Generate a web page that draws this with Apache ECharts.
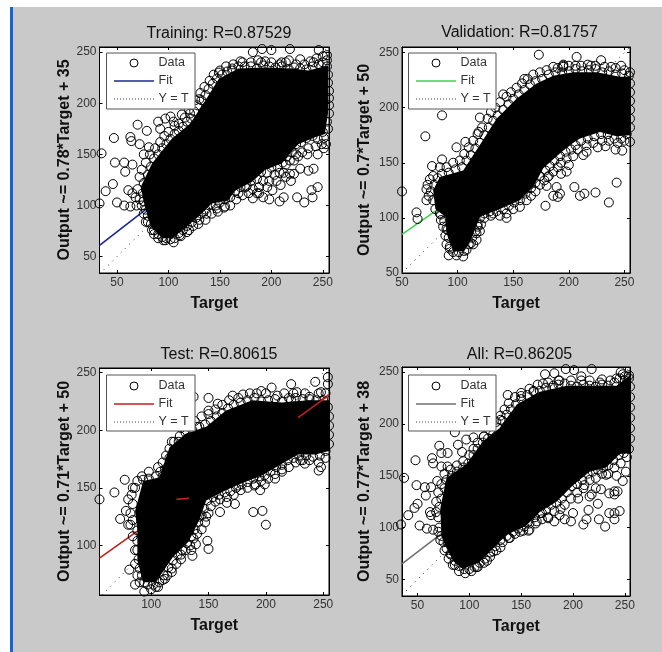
<!DOCTYPE html>
<html><head><meta charset="utf-8">
<style>
html,body{margin:0;padding:0;background:#fff;}
#bg{position:absolute;left:10px;top:7px;width:652px;height:645px;background:#c9c9c9;border-left:3px solid #1763d6;box-sizing:border-box;}
#chart{position:absolute;left:0;top:0;width:662px;height:652px;}
</style>
<script src="https://cdn.jsdelivr.net/npm/echarts@6/dist/echarts.min.js"></script>
</head><body><div id="bg"></div><div id="chart"></div>
<script>
const titles=['Training: R=0.87529','Validation: R=0.81757','Test: R=0.80615','All: R=0.86205'];
const yNames=['Output ~= 0.78*Target + 35','Output ~= 0.7*Target + 50','Output ~= 0.71*Target + 50','Output ~= 0.77*Target + 38'];
const xTicks=[[50,100,150,200,250],[50,100,150,200,250],[100,150,200,250],[50,100,150,200,250]];
const yTicks=[[50,100,150,200,250],[50,100,150,200,250],[100,150,200,250],[50,100,150,200,250]];
const ranges=[[33,256,34,255],[50,255,50,255],[55,255,57,254],[35,255,34,255]];
const fitColors=['#1c2690','#3fd24f','#c41f1f','#707070'];
const fitLines=[[[33,61],[256,235]],[[50,85],[255,229]],[[55,89],[255,231]],[[35,65],[255,234]]];
const fitOnTop=[[],[],[[[122,140],[133,141]],[[228,211],[253,229]]],[]];
const identity=[[[33,33],[255,255]],[[50,50],[255,255]],[[57,57],[255,255]],[[35,35],[255,255]]];

const core1=[[77,99],[73,118],[84,141],[103,165],[121,180],[136,203],[149,224],[168,234],[194,235],[220,234],[236,232],[255,237],[255,190],[252,170],[243,167],[226,160],[210,141],[194,135],[181,123],[165,115],[158,105],[142,102],[129,89],[117,79],[104,68],[94,68],[83,79]];
const core2=[[80,108],[78,125],[84,137],[105,143],[120,166],[135,190],[153,208],[171,222],[186,229],[204,232],[225,232],[246,228],[255,228],[255,175],[243,174],[228,178],[210,172],[201,166],[189,156],[177,145],[168,128],[156,116],[138,108],[120,101],[112,80],[106,70],[96,70],[90,86],[89,101]];
const core3=[[88,113],[86,130],[93,156],[107,159],[116,185],[130,197],[148,203],[165,217],[188,226],[214,224],[237,226],[255,226],[255,182],[243,179],[228,179],[214,171],[197,161],[179,154],[165,148],[148,139],[142,122],[133,104],[119,90],[104,68],[93,68],[88,87]];
const core4=[[73,92],[72,119],[78,148],[97,161],[113,183],[129,196],[146,219],[168,231],[194,237],[219,237],[242,237],[255,247],[255,172],[245,171],[232,158],[216,154],[200,141],[184,125],[168,115],[155,102],[136,93],[123,80],[110,67],[94,60],[85,67],[78,80]];

const edge1=[[75,112],[76,122],[80,130],[83,138],[86,146],[90,150],[94,156],[98,160],[102,165],[106,170],[110,173],[114,177],[118,182],[122,185],[125,192],[128,198],[132,203],[136,208],[139,214],[143,219],[147,224],[152,228],[157,231],[162,232],[168,236],[174,236],[180,236],[186,234],[192,237],[198,236],[204,235],[210,236],[216,233],[222,235],[228,234],[234,233],[240,236],[246,238],[250,240],[254,236],[255,228],[255,220],[256,212],[256,205],[256,198],[256,190],[254,182],[255,175],[250,172],[251,166],[245,165],[240,168],[234,166],[229,162],[224,160],[220,152],[215,148],[211,142],[206,138],[200,137],[196,132],[190,133],[186,126],[180,124],[176,119],[170,118],[165,114],[160,108],[155,106],[150,103],[146,100],[141,101],[136,96],[132,92],[127,88],[123,84],[118,80],[114,76],[110,73],[106,68],[102,67],[98,68],[94,69],[90,72],[86,76],[83,82],[80,90],[78,96],[76,104]];
const edge2=[[80,108],[78,116],[76,124],[79,130],[82,136],[86,140],[92,141],[98,144],[104,146],[108,152],[112,157],[116,163],[120,168],[124,175],[128,182],[132,188],[136,193],[141,198],[146,203],[150,208],[155,212],[160,216],[165,221],[170,224],[176,226],[182,230],[188,232],[194,232],[200,233],[206,235],[212,233],[218,234],[224,235],[230,232],[236,233],[242,230],[248,231],[254,229],[255,222],[255,214],[255,206],[255,198],[255,190],[255,182],[252,176],[247,172],[241,172],[235,176],[229,176],[223,174],[217,172],[211,170],[206,166],[202,162],[197,160],[192,156],[187,152],[183,147],[179,143],[174,138],[170,132],[166,127],[161,122],[156,116],[151,114],[146,111],[141,108],[135,106],[129,106],[124,104],[120,100],[118,94],[116,88],[113,82],[110,76],[106,70],[101,69],[96,69],[93,74],[92,82],[90,90],[88,97],[85,103]];
const edge3=[[88,113],[84,122],[82,128],[84,136],[83,144],[86,150],[88,156],[93,157],[98,158],[104,160],[108,164],[110,172],[113,178],[116,184],[120,190],[125,195],[130,198],[136,200],[142,203],[147,205],[152,208],[157,212],[162,215],[167,219],[172,222],[178,224],[184,226],[190,228],[196,225],[202,226],[208,227],[214,225],[220,228],[226,228],[232,227],[238,227],[244,226],[250,226],[254,220],[255,212],[255,204],[255,196],[255,188],[252,182],[247,178],[241,177],[235,178],[229,178],[224,176],[219,174],[214,170],[209,168],[204,164],[199,161],[194,160],[189,158],[184,155],[179,153],[174,150],[169,147],[164,146],[159,144],[154,142],[149,139],[146,132],[144,126],[141,120],[138,114],[135,108],[131,102],[127,96],[123,92],[119,87],[115,81],[111,74],[107,68],[102,66],[97,66],[94,68],[92,74],[90,80],[89,88],[88,96],[88,104]];
const edge4=[[73,92],[71,100],[70,110],[71,120],[73,128],[76,138],[78,146],[83,150],[88,154],[94,158],[99,162],[104,170],[108,176],[113,182],[118,186],[123,190],[128,196],[132,203],[136,209],[140,214],[145,219],[150,224],[156,228],[162,231],[168,232],[174,235],[180,235],[186,238],[192,239],[198,237],[204,236],[210,238],[216,237],[222,236],[228,238],[234,237],[240,240],[245,244],[250,246],[254,244],[255,236],[255,226],[255,216],[255,206],[255,196],[255,186],[254,176],[249,172],[244,170],[239,165],[234,160],[229,158],[224,156],[219,154],[214,152],[209,146],[204,142],[199,140],[194,134],[189,128],[184,124],[179,122],[174,117],[168,114],[163,110],[158,104],[153,101],[147,99],[142,96],[136,92],[130,88],[125,82],[120,76],[115,70],[110,66],[105,62],[100,60],[95,60],[90,63],[86,68],[82,74],[78,80],[75,86]];

const fringe1=[[72,128],[74,135],[78,142],[82,150],[87,156],[92,162],[96,168],[100,172],[106,178],[110,180],[116,186],[120,194],[126,203],[131,210],[135,216],[140,222],[144,228],[150,232],[156,236],[163,238],[172,240],[180,240],[190,240],[200,240],[208,238],[214,240],[224,238],[232,238],[238,241],[244,244],[250,246],[254,242],[253,160],[249,160],[243,158],[236,156],[230,152],[224,150],[218,144],[214,140],[208,132],[203,130],[198,124],[192,124],[188,118],[182,116],[178,112],[172,110],[166,106],[160,100],[154,98],[148,94],[142,92],[136,86],[130,86],[124,80],[118,74],[112,70],[70,116],[72,106],[74,100],[76,92],[80,84],[86,72],[90,68],[95,66],[235,150],[222,144],[212,132],[205,124],[196,118],[188,112]];
const fringe2=[[74,120],[73,130],[78,138],[84,146],[90,146],[96,150],[102,152],[106,158],[110,164],[114,170],[118,176],[122,182],[127,190],[130,196],[134,200],[138,205],[144,210],[148,214],[153,218],[158,222],[163,226],[168,230],[174,232],[180,234],[190,236],[200,238],[206,238],[220,238],[232,237],[242,236],[250,234],[250,170],[244,168],[236,170],[230,170],[222,168],[216,166],[208,162],[204,156],[198,154],[193,150],[190,146],[186,142],[182,138],[178,134],[174,130],[170,124],[166,120],[162,116],[156,110],[150,108],[144,104],[138,102],[130,102],[124,100],[121,94],[120,88],[117,80],[114,76],[90,76],[89,84],[87,92],[85,98]];
const fringe3=[[84,150],[80,140],[78,130],[82,118],[84,108],[86,96],[86,84],[88,74],[90,68],[100,62],[106,64],[110,70],[114,74],[118,80],[122,84],[126,92],[130,96],[134,100],[137,106],[140,110],[144,114],[147,120],[150,128],[152,134],[156,138],[160,140],[166,142],[172,144],[178,148],[184,150],[190,152],[196,156],[202,158],[208,162],[214,166],[220,168],[226,172],[232,174],[238,174],[246,172],[252,176],[110,160],[112,166],[106,168],[116,176],[120,182],[124,190],[118,190],[126,202],[132,204],[138,208],[144,212],[150,214],[156,218],[162,222],[168,226],[176,228],[186,232],[192,232],[200,232],[210,230],[216,232],[224,232],[234,232],[246,232],[252,232],[98,164],[92,160]];
const fringe4=[[68,115],[68,125],[70,134],[73,142],[76,152],[82,156],[88,160],[94,164],[100,170],[104,176],[108,182],[114,188],[120,194],[126,202],[130,208],[134,214],[138,220],[144,226],[150,230],[158,234],[166,238],[176,240],[186,242],[198,242],[208,242],[216,242],[226,240],[236,242],[242,244],[248,248],[252,168],[246,162],[240,158],[234,152],[228,152],[222,148],[216,146],[210,138],[204,134],[198,128],[192,122],[188,118],[182,116],[176,110],[170,108],[164,104],[158,98],[152,97],[144,94],[138,90],[132,86],[126,78],[120,72],[114,66],[108,62],[102,58],[90,58],[84,64],[80,70],[76,78],[72,88],[70,96]];

const scatter1=[[35,151],[47,166],[48,142],[63,167],[64,163],[57,142],[65,140],[58,133],[46,121],[39,114],[33,102],[50,103],[57,100],[63,99],[61,115],[65,112],[68,108],[69,100],[70,179],[79,173],[72,160],[76,150],[81,157],[90,182],[97,185],[102,187],[92,175],[105,182],[113,189],[121,190],[130,204],[191,253],[200,252],[218,253],[182,250],[187,242],[194,241],[170,241],[149,230],[162,234],[228,243],[210,240],[217,242],[241,240],[246,252],[254,247],[208,104],[212,108],[225,108],[232,103],[240,108],[245,118],[239,115],[236,134],[241,136],[214,128],[218,131],[222,131],[219,124],[198,106],[192,108],[182,107],[186,112],[175,118],[168,112],[201,115],[209,120],[228,136],[226,148],[245,150],[251,156],[97,66],[105,64],[84,76],[78,84],[129,82],[120,76],[111,71],[147,97],[155,99],[137,92]];
const scatter2=[[50,124],[63,105],[64,99],[71,174],[86,193],[99,164],[173,248],[207,246],[229,243],[160,226],[141,212],[120,191],[119,178],[107,169],[86,153],[77,147],[75,135],[72,126],[72,116],[84,104],[144,100],[132,104],[179,111],[205,128],[210,120],[214,122],[224,123],[236,114],[243,132],[190,119],[192,122],[189,128],[180,129],[181,137],[193,140],[198,142],[200,148],[213,157],[216,160],[226,164],[233,165],[242,162],[248,161],[255,169],[186,120],[186,237],[195,237],[195,239],[195,238],[211,238],[217,239],[224,238],[247,238],[238,237],[255,232],[92,66],[99,66],[105,65],[93,72],[91,89],[112,77],[117,86],[118,92],[108,71]];
const scatter3=[[55,140],[68,146],[77,157],[73,123],[80,118],[81,79],[86,66],[94,60],[104,64],[112,71],[118,77],[126,88],[136,91],[135,96],[139,101],[149,104],[150,97],[166,137],[173,136],[160,129],[189,129],[197,130],[200,118],[195,148],[191,153],[176,152],[137,229],[150,228],[150,217],[158,223],[140,203],[171,230],[180,231],[196,234],[205,237],[222,240],[243,242],[254,246],[254,240],[248,233],[222,226],[227,233],[238,229],[246,165],[248,168],[234,171],[230,174],[214,164],[208,158],[199,153],[142,125],[148,125]];
const scatter4=[[37,148],[34,103],[41,112],[48,165],[49,141],[50,123],[47,119],[52,102],[59,99],[65,98],[64,167],[65,162],[58,131],[57,139],[63,139],[69,145],[62,115],[63,112],[71,179],[73,172],[79,172],[73,159],[79,159],[89,180],[97,185],[104,187],[93,173],[86,192],[114,188],[130,204],[137,228],[150,227],[162,232],[173,248],[182,249],[193,253],[201,252],[218,253],[208,246],[187,242],[171,239],[181,237],[228,243],[246,250],[254,247],[250,242],[210,103],[213,108],[225,108],[231,101],[235,114],[240,108],[240,114],[245,116],[235,133],[240,135],[243,135],[240,132],[218,132],[216,130],[224,123],[215,117],[205,128],[198,106],[192,108],[182,106],[176,109],[187,112],[200,114],[170,114],[227,137],[232,151],[242,150],[248,145],[251,154],[222,138],[211,141],[86,64],[96,56],[107,62],[82,75],[79,86],[130,81],[117,68],[123,77],[139,90],[157,97],[149,96],[165,106]];

const cores=[core1,core2,core3,core4];
const edges=[edge1,edge2,edge3,edge4];
const fringes=[fringe1,fringe2,fringe3,fringe4];
const scatters=[scatter1,scatter2,scatter3,scatter4];

const grids=[
 {left:99.5,top:47,width:229.5,height:226},
 {left:402,top:47,width:228,height:226},
 {left:99.5,top:368,width:229.5,height:227},
 {left:402,top:367,width:228,height:229}];
const labelFont='Liberation Sans, Arial, sans-serif';
const option={animation:false,grid:[],xAxis:[],yAxis:[],series:[],title:[],graphic:[]};
const titleXY=[[214,29],[514.5,28],[214,350],[514.5,350]];
const legendBoxes=[[106.5,53,195,109],[408.5,53,496,109],[106.5,375,195,431],[408.5,375,496,431]];
const legendRows=[[63,81,99],[63,81,99],[386,404,422],[386,404,422]];

grids.forEach((g,i)=>{
  const r=ranges[i];
  option.grid.push(Object.assign({show:true,backgroundColor:'#fff',borderColor:'#000',borderWidth:1},g));
  const tick={show:true,inside:true,length:3,lineStyle:{color:'#000'}};
  option.xAxis.push({type:'value',gridIndex:i,min:r[0],max:r[1],position:'bottom',name:'Target',nameLocation:'middle',nameGap:23,
    nameTextStyle:{fontFamily:labelFont,fontWeight:'bold',fontSize:16,color:'#111'},
    axisLine:{show:true,onZero:false,lineStyle:{color:'#000'}},
    axisTick:Object.assign({customValues:xTicks[i]},tick),
    axisLabel:{customValues:xTicks[i],fontFamily:labelFont,fontSize:12,color:'#333',margin:4,hideOverlap:false,showMinLabel:true,showMaxLabel:true},splitLine:{show:false}});
  option.xAxis.push({type:'value',gridIndex:i,min:r[0],max:r[1],position:'top',
    axisLine:{show:true,onZero:false,lineStyle:{color:'#000'}},axisTick:Object.assign({customValues:xTicks[i]},tick),axisLabel:{show:false},splitLine:{show:false}});
  option.yAxis.push({type:'value',gridIndex:i,min:r[2],max:r[3],position:'left',name:yNames[i],nameLocation:'middle',nameGap:i%2?29:27,nameRotate:90,
    nameTextStyle:{fontFamily:labelFont,fontWeight:'bold',fontSize:16,color:'#111'},
    axisLine:{show:true,onZero:false,lineStyle:{color:'#000'}},
    axisTick:Object.assign({customValues:yTicks[i]},tick),
    axisLabel:{customValues:yTicks[i],fontFamily:labelFont,fontSize:12,color:'#333',margin:3,hideOverlap:false,showMinLabel:true,showMaxLabel:true},splitLine:{show:false}});
  option.yAxis.push({type:'value',gridIndex:i,min:r[2],max:r[3],position:'right',
    axisLine:{show:true,onZero:false,lineStyle:{color:'#000'}},axisTick:Object.assign({customValues:yTicks[i]},tick),axisLabel:{show:false},splitLine:{show:false}});
  const xi=i*2, yi=i*2;
  option.series.push({type:'line',xAxisIndex:xi,yAxisIndex:yi,data:identity[i],showSymbol:false,symbol:'none',silent:true,z:2,lineStyle:{color:'#333',width:1,type:[1,5]}});
  option.series.push({type:'line',xAxisIndex:xi,yAxisIndex:yi,data:fitLines[i],symbol:'none',silent:true,z:3,lineStyle:{color:fitColors[i],width:1.6}});
  option.series.push({type:'custom',xAxisIndex:xi,yAxisIndex:yi,coordinateSystem:'cartesian2d',data:[cores[i][0]],silent:true,z:4,clip:false,
    renderItem:(p,api)=>({type:'polygon',shape:{points:cores[i].map(c=>api.coord(c))},style:{fill:'#000'}})});
  option.series.push({type:'scatter',xAxisIndex:xi,yAxisIndex:yi,data:edges[i].concat(fringes[i],scatters[i]),symbol:'circle',symbolSize:9,clip:false,silent:true,z:5,
    itemStyle:{color:'rgba(0,0,0,0)',borderColor:'#000',borderWidth:1,opacity:1}});
  fitOnTop[i].forEach(seg=>option.series.push({type:'line',xAxisIndex:xi,yAxisIndex:yi,data:seg,symbol:'none',silent:true,z:6,lineStyle:{color:fitColors[i],width:1.6}}));
  option.title.push({text:titles[i],left:titleXY[i][0],top:titleXY[i][1],textAlign:'center',textVerticalAlign:'middle',
    textStyle:{fontFamily:labelFont,fontSize:16,fontWeight:'normal',color:'#111'}});
  const b=legendBoxes[i], rows=legendRows[i];
  const t=(txt,x,y)=>({type:'text',z:101,style:{text:txt,x:x,y:y,fill:'#333',font:'12.5px '+labelFont,textVerticalAlign:'middle'}});
  option.graphic.push(
    {type:'rect',z:100,shape:{x:b[0],y:b[1],width:b[2]-b[0],height:b[3]-b[1]},style:{fill:'#fff',stroke:'#555',lineWidth:1}},
    {type:'circle',z:101,shape:{cx:b[0]+27.5,cy:rows[0],r:4},style:{fill:'none',stroke:'#000',lineWidth:1}},
    {type:'line',z:101,shape:{x1:b[0]+7.5,y1:rows[1],x2:b[0]+47.5,y2:rows[1]},style:{stroke:fitColors[i],lineWidth:1.6}},
    {type:'line',z:101,shape:{x1:b[0]+7.5,y1:rows[2],x2:b[0]+47.5,y2:rows[2]},style:{stroke:'#444',lineWidth:1,lineDash:[1,2]}},
    t('Data',b[0]+52,rows[0]),t('Fit',b[0]+52,rows[1]),t('Y = T',b[0]+52,rows[2]));
});
const chart=echarts.init(document.getElementById('chart'),null,{renderer:'canvas'});
chart.setOption(option);
</script></body></html>
